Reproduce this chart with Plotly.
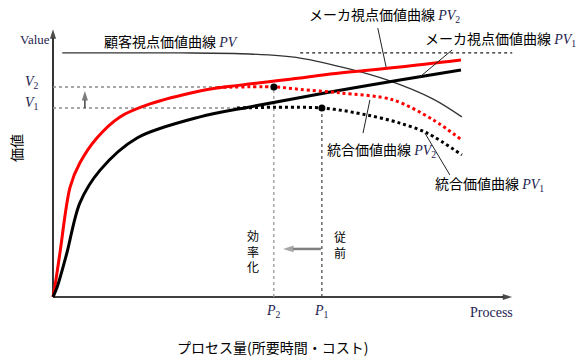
import plotly.graph_objects as go

# ---- data (process units 0-100 along x, value units 0-100 along y) ----
maker_pv2_x = [0, 0.4, 1.5, 3.7, 5.8, 9.5, 14.5, 21.0, 31.8, 35.5, 53.5, 60.0, 75.1, 88.3]
maker_pv2_y = [0, 3.7, 16.3, 40.7, 49.6, 58.9, 66.7, 71.5, 76.3, 77.4, 81.1, 82.6, 85.2, 87.8]

maker_pv1_x = [0, 0.9, 3.0, 5.8, 10.2, 18.2, 31.8, 42.6, 60.0, 75.1, 88.3]
maker_pv1_y = [0, 3.7, 16.3, 34.8, 47.0, 58.9, 66.7, 70.4, 75.9, 80.4, 84.1]

customer_pv_x = [2.0, 27.5, 42.6, 53.5, 64.3, 72.3, 82.3, 88.5]
customer_pv_y = [90.4, 90.4, 90.0, 88.5, 84.4, 80.4, 73.3, 66.7]

integrated_pv2_x = [35.5, 47.8, 53.5, 62.1, 73.6, 82.3, 88.5]
integrated_pv2_y = [77.6, 77.8, 76.9, 75.6, 73.0, 65.6, 58.1]

integrated_pv1_x = [39.8, 58.2, 68.0, 75.1, 81.0, 88.5]
integrated_pv1_y = [70.0, 70.0, 67.4, 64.4, 60.7, 52.6]

customer_ref_x = [53.5, 99.4]      # dotted continuation of customer value level
customer_ref_level = 90.4

V2, V1 = 77.8, 70.0
P2, P1 = 47.8, 58.2
X_MAX, Y_MAX = 100.0, 100.4

JP = "Noto Sans CJK JP"
SERIF = "Liberation Serif"
INK = "#1e2450"

fig = go.Figure()

def line(x, y, color, width, dash="solid", shape="spline", smoothing=0.9):
    fig.add_trace(go.Scatter(x=x, y=y, mode="lines",
                             line=dict(color=color, width=width, dash=dash,
                                       shape=shape, smoothing=smoothing),
                             hoverinfo="skip", showlegend=False))

def arrow(x, y, color, width, head):
    fig.add_trace(go.Scatter(x=x, y=y, mode="lines+markers",
                             line=dict(color=color, width=width),
                             marker=dict(symbol="arrow", size=[0, head], angleref="previous",
                                         color=color, line=dict(width=0)),
                             hoverinfo="skip", showlegend=False))

# axes
arrow([0, X_MAX - 0.6], [0, 0], "black", 1.6, 10)
arrow([0, 0], [0, Y_MAX - 1.2], "black", 1.6, 10)

# reference guides
line([0, integrated_pv2_x[0]], [V2, V2], "#8a8a8a", 1.5, "dot", "linear")
line([0, integrated_pv1_x[0]], [V1, V1], "#8a8a8a", 1.5, "dot", "linear")
line([P2, P2], [0, V2], "#9a9a9a", 1.3, "dot", "linear")
line([P1, P1], [0, V1], "#444444", 1.2, "dot", "linear")
line(customer_ref_x, [customer_ref_level] * 2, "#222222", 1.2, "dot", "linear")

# curves
line(customer_pv_x, customer_pv_y, "#333333", 1.3)
line(maker_pv2_x, maker_pv2_y, "#ff0000", 3)
line(maker_pv1_x, maker_pv1_y, "#000000", 3)
line(integrated_pv2_x, integrated_pv2_y, "#ff0000", 3, "dot")
line(integrated_pv1_x, integrated_pv1_y, "#000000", 3, "dot")

# leader lines
leaders = [
    ([70.3, 72.1], [99.6, 85.2]),
    ([86.4, 79.4], [91.5, 81.5]),
    ([67.1, 68.6], [60.7, 73.0]),
    ([85.9, 80.5], [45.2, 60.7]),
]
for lx, ly in leaders:
    line(lx, ly, "#222222", 1, "solid", "linear")

# shift arrows
arrow([6.9, 6.9], [V1, V2 - 1.5], "#444444", 1.5, 10)
arrow([58.0, 49.8], [17.8, 17.8], "#808080", 2.5, 11)

# points
fig.add_trace(go.Scatter(x=[P2, P1], y=[V2, V1], mode="markers",
                         marker=dict(color="black", size=7),
                         hoverinfo="skip", showlegend=False))

ann = []

def txt(x, y, s, size=14, family=JP, xanchor="left", color="black", angle=0):
    ann.append(dict(x=x, y=y, xref="x", yref="y", text=s, showarrow=False,
                    xanchor=xanchor, yanchor="middle", textangle=angle,
                    font=dict(family=family, size=size, color=color)))

def pv(sub=""):
    s = f"<span style='font-family:{SERIF};font-style:italic;fill:{INK}'>PV</span>"
    if sub:
        s += f"<span style='font-family:{SERIF};fill:{INK}'><sub>{sub}</sub></span>"
    return s

txt(10.6, 94.8, "顧客視点価値曲線 " + pv())
txt(55.0, 104.8, "メーカ視点価値曲線 " + pv("2"))
txt(80.1, 95.6, "メーカ視点価値曲線 " + pv("1"))
txt(58.9, 54.8, "統合価値曲線 " + pv("2"))
txt(82.3, 41.9, "統合価値曲線 " + pv("1"))

txt(-0.3, 95.2, "Value", 13, SERIF, "right", INK)
txt(-4.5, 79.3, "<i>V</i><sub>2</sub>", 14, SERIF, "center", INK)
txt(-4.5, 71.5, "<i>V</i><sub>1</sub>", 14, SERIF, "center", INK)

txt(P2, -5.4, "<i>P</i><sub>2</sub>", 14, SERIF, "center", INK)
txt(P1, -5.4, "<i>P</i><sub>1</sub>", 14, SERIF, "center", INK)
txt(X_MAX, -5.6, "Process", 14, SERIF, "right", INK)

# vertical labels
txt(43.3, 16.9, "効<br>率<br>化", 12, JP, "center")
txt(62.1, 19.6, "従<br>前", 12, JP, "center")

txt(-8.1, 55.0, "価値", 14, JP, "center", "black", -90)
txt(47.6, -18.5, "プロセス量(所要時間・コスト)", 14, JP, "center")

fig.update_layout(
    width=576, height=358,
    margin=dict(l=0, r=0, t=0, b=0),
    paper_bgcolor="white", plot_bgcolor="white",
    xaxis=dict(range=[-53 / 4.62, 523 / 4.62], visible=False, fixedrange=True),
    yaxis=dict(range=[-61 / 2.7, 297 / 2.7], visible=False, fixedrange=True),
    annotations=ann,
    showlegend=False,
)

fig.write_html("out.html", config={"displayModeBar": False},
               post_script="document.body.style.margin='0';")
